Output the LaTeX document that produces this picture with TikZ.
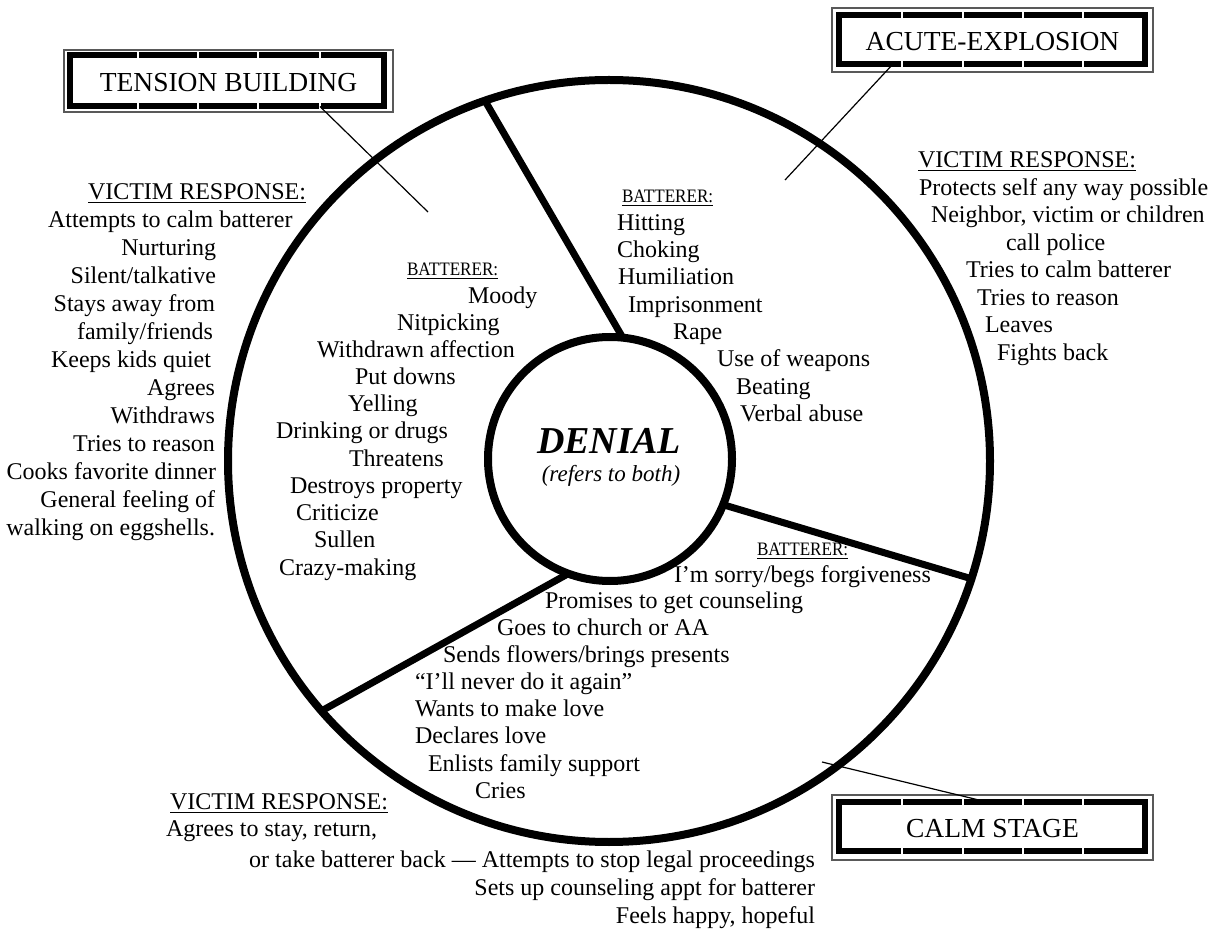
\documentclass[tikz,border=0pt]{standalone}
\usepackage{fontspec}
\usepackage{graphicx}
\setmainfont{Liberation Serif}
\newcommand{\battlabel}{{\fontsize{9.5}{11}\selectfont\scalebox{0.9}[1]{\underline{BATTERER:}}}}
\begin{document}
\begin{tikzpicture}[x=0.5pt,y=-0.5pt,
  txt/.style={inner sep=0pt, outer sep=0pt, yshift=-1.3pt, font=\fontsize{12}{14}\selectfont},
  L/.style={txt, anchor=mid west},
  R/.style={txt, anchor=mid east},
  ring/.style={circle, draw, line width=4pt, inner sep=0pt, outer sep=0pt},
  spoke/.style={line width=3.5pt},
  leader/.style={line width=0.6pt},
  frameout/.style={draw=gray!70!black, line width=0.6pt},
  framein/.style={draw=black, line width=3pt},
  gap/.style={draw=white, line width=0.7pt},
  boxtxt/.style={inner sep=0pt, font=\fontsize{13.75}{16}\selectfont}]
\useasboundingbox (0,0) rectangle (1216,930);
\fill[white] (0,0) rectangle (1216,930);

% circles
\node[ring, minimum size=381pt] (outer) at (609,461) {};
\node[ring, minimum size=122pt] (inner) at (610,459) {};

% spokes
\draw[spoke] (inner.84) -- (outer.109);
\draw[spoke] (inner.-22) -- (outer.-18);
\draw[spoke] (inner.250) -- (outer.221.4);

% centre
\node[inner sep=0pt, font=\fontsize{19}{22}\selectfont\bfseries\itshape] (den) at (609,441) {DENIAL};
\node[inner sep=0pt, font=\fontsize{11.5}{14}\selectfont\itshape] (both) at (611,476) {(refers to both)};

% title boxes
\draw[frameout] (64,50) rectangle (393,112);
\draw[framein] (70,55.5) rectangle (384,106.5);
\foreach \gx in {138,198,258,320} {\draw[gap] (\gx,52) -- (\gx,59); \draw[gap] (\gx,103) -- (\gx,110);}
\node[boxtxt] (tb) at (228.5,83) {TENSION BUILDING};

\draw[frameout] (832,8) rectangle (1153,72);
\draw[framein] (838.5,15.5) rectangle (1145,64);
\foreach \gx in {902,963,1023,1083} {\draw[gap] (\gx,12) -- (\gx,19); \draw[gap] (\gx,60) -- (\gx,67);}
\node[boxtxt] (ab) at (992.5,42) {ACUTE-EXPLOSION};

\draw[frameout] (832,795) rectangle (1153,860);
\draw[framein] (838.5,801.5) rectangle (1145,851);
\foreach \gx in {902,963,1023,1083} {\draw[gap] (\gx,798) -- (\gx,805); \draw[gap] (\gx,847) -- (\gx,854);}
\node[boxtxt] (cb) at (992.5,829) {CALM STAGE};

% leaders
\coordinate (t1) at (320,106.5); \coordinate (t2) at (428,212);
\coordinate (a1) at (893,64); \coordinate (a2) at (785,180);
\coordinate (c1) at (985,801.5); \coordinate (c2) at (822,762);
\draw[leader] (t1) -- (t2);
\draw[leader] (a1) -- (a2);
\draw[leader] (c1) -- (c2);

% tension: victim response
\node[L] (tv0) at (88,192) {\underline{VICTIM RESPONSE:}};
\node[L] (tv1) at (48,220) {Attempts to calm batterer};
\node[R] (tv2) at (216,248) {Nurturing};
\node[R] (tv3) at (216,276) {Silent/talkative};
\node[R] (tv4) at (215,304) {Stays away from};
\node[R] (tv5) at (213,332) {family/friends};
\node[R] (tv6) at (211,360) {Keeps kids quiet};
\node[R] (tv7) at (215,388) {Agrees};
\node[R] (tv8) at (215,416) {Withdraws};
\node[R] (tv9) at (215,444) {Tries to reason};
\node[R] (tv10) at (216,472) {Cooks favorite dinner};
\node[R] (tv11) at (215,500) {General feeling of};
\node[R] (tv12) at (215,528) {walking on eggshells.};

% tension: batterer
\node[L] (tb0) at (407,268) {\battlabel};
\node[L] (tb1) at (468,296) {Moody};
\node[L] (tb2) at (397,323) {Nitpicking};
\node[L] (tb3) at (317,350) {Withdrawn affection};
\node[L] (tb4) at (355,377) {Put downs};
\node[L] (tb5) at (348,404) {Yelling};
\node[L] (tb6) at (276,431) {Drinking or drugs};
\node[L] (tb7) at (349,459) {Threatens};
\node[L] (tb8) at (290,486) {Destroys property};
\node[L] (tb9) at (296,513) {Criticize};
\node[L] (tb10) at (314,540) {Sullen};
\node[L] (tb11) at (279,568) {Crazy-making};

% acute: batterer
\node[L] (ab0) at (622,195) {\battlabel};
\node[L] (ab1) at (617,223) {Hitting};
\node[L] (ab2) at (617,250) {Choking};
\node[L] (ab3) at (618,277) {Humiliation};
\node[L] (ab4) at (628,305) {Imprisonment};
\node[L] (ab5) at (673,332) {Rape};
\node[L] (ab6) at (717,359) {Use of weapons};
\node[L] (ab7) at (736,387) {Beating};
\node[L] (ab8) at (740,414) {Verbal abuse};

% acute: victim
\node[L] (av0) at (918,160) {\underline{VICTIM RESPONSE:}};
\node[L] (av1) at (919,188) {Protects self any way possible};
\node[L] (av2) at (931,215) {Neighbor, victim or children};
\node[L] (av3) at (1006,243) {call police};
\node[L] (av4) at (966,270) {Tries to calm batterer};
\node[L] (av5) at (977,298) {Tries to reason};
\node[L] (av6) at (985,325) {Leaves};
\node[L] (av7) at (997,353) {Fights back};

% calm: batterer
\node[L] (cb0) at (757,548) {\battlabel};
\node[L] (cb1) at (674,575) {I’m sorry/begs forgiveness};
\node[L] (cb2) at (545,601) {Promises to get counseling};
\node[L] (cb3) at (497,628) {Goes to church or AA};
\node[L] (cb4) at (443,655) {Sends flowers/brings presents};
\node[L] (cb5) at (415,682) {“I’ll never do it again”};
\node[L] (cb6) at (415,709) {Wants to make love};
\node[L] (cb7) at (415,736) {Declares love};
\node[L] (cb8) at (428,764) {Enlists family support};
\node[L] (cb9) at (475,791) {Cries};

% calm: victim
\node[L] (cv0) at (170,802) {\underline{VICTIM RESPONSE:}};
\node[L] (cv1) at (166,829) {Agrees to stay, return,};
\node[R] (cv2) at (815,860) {or take batterer back — Attempts to stop legal proceedings};
\node[R] (cv3) at (815,888) {Sets up counseling appt for batterer};
\node[R] (cv4) at (815,916) {Feels happy, hopeful};
\end{tikzpicture}
\end{document}
